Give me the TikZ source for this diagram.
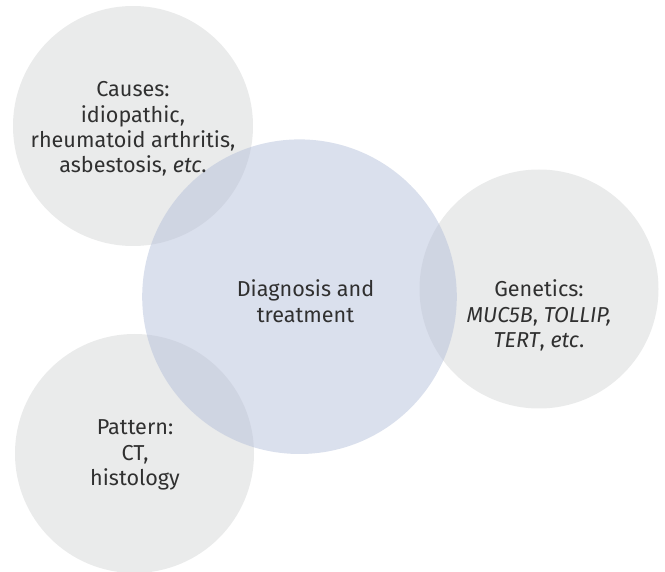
\documentclass[tikz,border=0pt]{standalone}
\usepackage{fontspec}
\setmainfont{Fira Sans}
\definecolor{circgray}{HTML}{EAEBEB}
\definecolor{circblue}{HTML}{B6C1DB}
\definecolor{txtgray}{HTML}{303030}
\tikzset{
  graycirc/.style={circle, fill=circgray, draw=none, inner sep=0pt},
  maincirc/.style={circle, fill=circblue, fill opacity=0.5, draw=none, inner sep=0pt},
  label/.style={align=center, text=txtgray, font=\fontsize{21.6}{25.3}\selectfont, inner sep=0pt},
  mainlabel/.style={label, font=\fontsize{21.6}{26.3}\selectfont}
}
\begin{document}
\begin{tikzpicture}[x=1pt,y=-1pt]
\useasboundingbox (0,0) rectangle (665,572);
\node[graycirc, minimum size=240pt] (causes) at (133,126) {};
\node[graycirc, minimum size=239pt] (genetics) at (539,289) {};
\node[graycirc, minimum size=239pt] (pattern) at (134.5,453.5) {};
\node[maincirc, minimum size=314.6pt] (main) at (299.5,296.7) {};
\node[label] (causestxt) at (133,129.1) {Causes:\\idiopathic,\\rheumatoid arthritis,\\asbestosis, \textit{etc}.};
\node[mainlabel] (maintxt) at (305.5,301.2) {Diagnosis and\\treatment};
\node[label] (genetxt) at (539,315.6) {Genetics:\\\textit{MUC5B}, \textit{TOLLIP,}\\\textit{TERT}, \textit{etc}.};
\node[label] (pattxt) at (135,455) {Pattern:\\CT,\\histology};
\end{tikzpicture}
\end{document}
